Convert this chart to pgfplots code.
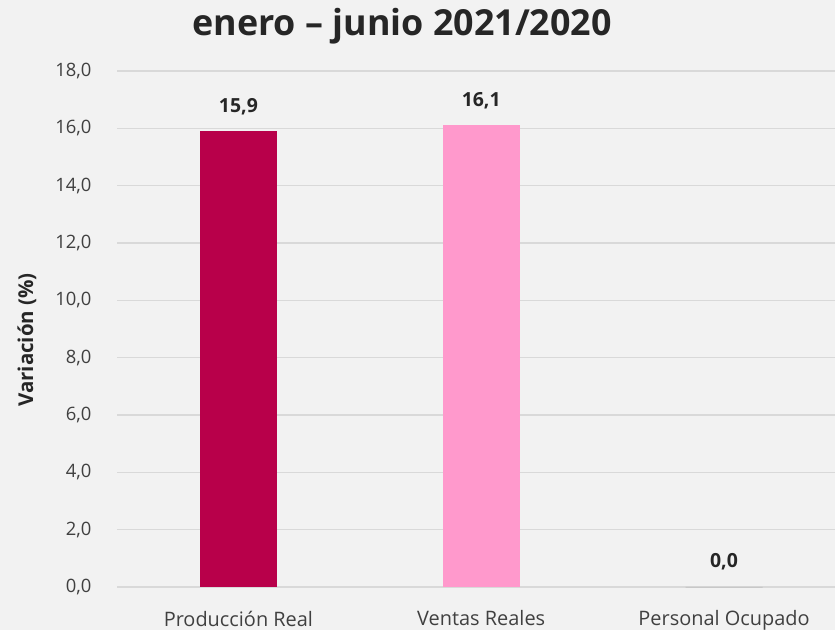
\documentclass[border=0pt]{standalone}
\usepackage{pgfplots}
\pgfplotsset{compat=1.18}
\usepackage{fontspec}
\setmainfont{Open Sans}
\definecolor{bg}{HTML}{F2F2F2}
\definecolor{gridc}{HTML}{D9D9D9}
\definecolor{txt}{HTML}{404040}
\definecolor{ttl}{HTML}{262626}
\definecolor{barA}{HTML}{B8004A}
\definecolor{barB}{HTML}{FF99CC}
\definecolor{barC}{HTML}{BFBFBF}
\begin{document}
\begin{tikzpicture}[x=1bp,y=1bp]
\fill[bg] (0,0) rectangle (835,630);
\useasboundingbox (0,0) rectangle (835,630);
\node[font=\fontsize{36}{40}\selectfont\bfseries, text=ttl] at (402,604) {enero – junio 2021/2020};
\node[font=\fontsize{20.5}{24}\selectfont\bfseries, text=ttl, rotate=90] at (27,290) {Variación (\%)};
\begin{axis}[
  at={(117bp,43bp)}, anchor=south west,
  scale only axis, width=718bp, height=516bp,
  xmin=-0.5, xmax=2.457, ymin=0, ymax=18,
  axis line style={draw=none},
  ytick={0,2,...,18},
  xtick={0,1,2},
  xticklabels={Producción Real, Ventas Reales, Personal Ocupado},
  tick style={draw=none},
  ymajorgrids, grid style={gridc, line width=1.2bp},
  /pgf/number format/.cd, assume math mode=true, fixed, fixed zerofill, precision=1, use comma,
  /pgfplots/.cd,
  yticklabel style={font=\fontsize{18.5}{22}\selectfont, text=txt, xshift=-22bp},
  xticklabel style={font=\fontsize{20}{24}\selectfont, text=txt, yshift=-16bp},
  ybar, bar width=0.317, bar shift=0pt,
  nodes near coords,
  every node near coord/.append style={font=\fontsize{19.5}{23}\selectfont\bfseries, text=ttl, yshift=13bp,
    /pgf/number format/.cd, assume math mode=true, fixed, fixed zerofill, precision=1, use comma},
  clip=false,
]
\addplot[fill=barA, draw=none] coordinates {(0,15.9)};
\addplot[fill=barB, draw=none] coordinates {(1,16.1)};
\addplot[fill=barC, draw=barC, line width=0.4bp] coordinates {(2,0.0)};
\end{axis}
\end{tikzpicture}
\end{document}
